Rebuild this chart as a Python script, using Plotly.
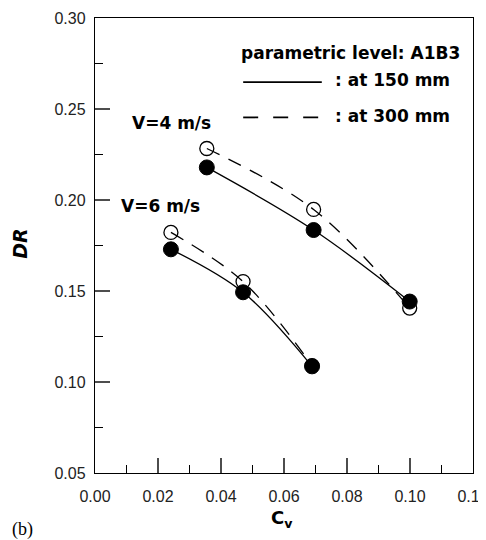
import plotly.graph_objects as go

# Data
cv_v4 = [0.0355, 0.0694, 0.0999]
dr_v4_150 = [0.2179, 0.1835, 0.1442]
dr_v4_300 = [0.2283, 0.1948, 0.1406]

cv_v6 = [0.0241, 0.0470, 0.0689]
dr_v6_150 = [0.1729, 0.1493, 0.1086]
dr_v6_300 = [0.1822, 0.1552, 0.1090]

x_ticks = [0.00, 0.02, 0.04, 0.06, 0.08, 0.10, 0.12]
y_ticks = [0.05, 0.10, 0.15, 0.20, 0.25, 0.30]
x_tick_step = 0.02
y_tick_step = 0.05
x_range = [0, 0.12]
y_range = [0.05, 0.30]

TICKFONT = "Liberation Sans, Arial, Helvetica, sans-serif"
BOLDFONT = "DejaVu Sans, Liberation Sans, Arial, sans-serif"

fig = go.Figure()

line_solid = dict(color="black", width=1.3, shape="spline", smoothing=1.0)
line_dash = dict(color="black", width=1.3, shape="spline", smoothing=1.0, dash="14px,10px")
m_open = dict(symbol="circle-open", size=14, color="black", line=dict(color="black", width=1.3))
m_fill = dict(symbol="circle", size=15, color="black", line=dict(color="black", width=1))

for cv, d300 in [(cv_v4, dr_v4_300), (cv_v6, dr_v6_300)]:
    fig.add_trace(go.Scatter(x=cv, y=d300, mode="lines+markers", line=line_dash,
                             marker=m_open, showlegend=False, hoverinfo="skip"))
for cv, d150 in [(cv_v4, dr_v4_150), (cv_v6, dr_v6_150)]:
    fig.add_trace(go.Scatter(x=cv, y=d150, mode="lines+markers", line=line_solid,
                             marker=m_fill, showlegend=False, hoverinfo="skip"))

# main axes: frame and tick labels
axis_common = dict(
    showgrid=False, zeroline=False, showline=True, linecolor="black", linewidth=1.4,
    mirror=True, ticks="", tickformat=".2f", tickmode="linear",
    tickfont=dict(family=TICKFONT, size=16, color="#222"),
)

# minor tick marks are drawn by overlaid axes with no labels
tick_common = dict(
    showgrid=False, zeroline=False, showline=False, showticklabels=False,
    ticks="inside", tickwidth=1.3, tickcolor="black", tickmode="linear",
)

fig.update_layout(
    xaxis=dict(range=x_range, tick0=0, dtick=x_tick_step,
               ticklabelstandoff=9, ticklabeloverflow="allow", **axis_common),
    yaxis=dict(range=y_range, tick0=0.05, dtick=y_tick_step,
               ticklabelstandoff=5, **axis_common),
    xaxis2=dict(range=x_range, tick0=0.01, dtick=x_tick_step, ticklen=8, overlaying="x",
                side="bottom", anchor="y2", **tick_common),
    yaxis2=dict(range=y_range, tick0=0.075, dtick=y_tick_step, ticklen=8, overlaying="y",
                side="left", anchor="x2", **tick_common),
)
fig.add_trace(go.Scatter(x=[0.06], y=[0.175], xaxis="x2", yaxis="y2", mode="markers",
                         marker=dict(opacity=0), showlegend=False, hoverinfo="skip"))

bold = dict(family=BOLDFONT, size=17, color="black")
annotations = [
    dict(text="<b>V=4 m/s</b>", x=0.0244, y=0.2424, xref="x", yref="y", showarrow=False,
         xanchor="center", yanchor="middle", font=bold),
    dict(text="<b>V=6 m/s</b>", x=0.0207, y=0.1968, xref="x", yref="y", showarrow=False,
         xanchor="center", yanchor="middle", font=bold),
    dict(text="<b>parametric level: A1B3</b>", x=0.970, y=0.924, xref="paper", yref="paper",
         xanchor="right", yanchor="middle", showarrow=False, font=bold),
    dict(text="<b>: at 150 mm</b>", x=0.629, y=0.863, xref="paper", yref="paper",
         xanchor="left", yanchor="middle", showarrow=False, font=bold),
    dict(text="<b>: at 300 mm</b>", x=0.629, y=0.784, xref="paper", yref="paper",
         xanchor="left", yanchor="middle", showarrow=False, font=bold),
    dict(text="<b><i>DR</i></b>", x=-0.197, y=0.503, xref="paper", yref="paper", textangle=-90,
         xanchor="center", yanchor="middle", showarrow=False,
         font=dict(family=BOLDFONT, size=19, color="black")),
    dict(text="<b>C<sub>v</sub></b>", x=0.495, y=-0.102, xref="paper", yref="paper",
         xanchor="center", yanchor="middle", showarrow=False,
         font=dict(family=BOLDFONT, size=18, color="black")),
    dict(text="(b)", x=-0.192, y=-0.124, xref="paper", yref="paper",
         xanchor="center", yanchor="middle", showarrow=False,
         font=dict(family="Liberation Serif, Times New Roman, serif", size=18, color="black")),
]

shapes = [
    dict(type="line", xref="paper", yref="paper", x0=0.392, x1=0.600, y0=0.859, y1=0.859,
         line=dict(color="black", width=1.8)),
    dict(type="line", xref="paper", yref="paper", x0=0.392, x1=0.600, y0=0.7815, y1=0.7815,
         line=dict(color="black", width=1.8, dash="15px,15px")),
]
# major tick marks (15 px, pointing inward), placed on the axis scales
tick_line = dict(color="black", width=1.4)
for v in x_ticks[1:-1]:
    shapes.append(dict(type="line", xref="x", yref="y", x0=v, x1=v,
                       ysizemode="pixel", yanchor=y_range[0], y0=0, y1=15, line=tick_line))
for v in y_ticks[1:-1]:
    shapes.append(dict(type="line", xref="x", yref="y", y0=v, y1=v,
                       xsizemode="pixel", xanchor=x_range[0], x0=0, x1=15, line=tick_line))

# the page body adds an 8px offset, so the figure is slightly smaller than the window
fig.update_layout(
    width=478, height=532,
    margin=dict(l=86.7, r=12.7, t=9.5, b=66.7, autoexpand=False),
    paper_bgcolor="white", plot_bgcolor="white",
    annotations=annotations, shapes=shapes,
    showlegend=False,
)

fig.write_html("out.html")
